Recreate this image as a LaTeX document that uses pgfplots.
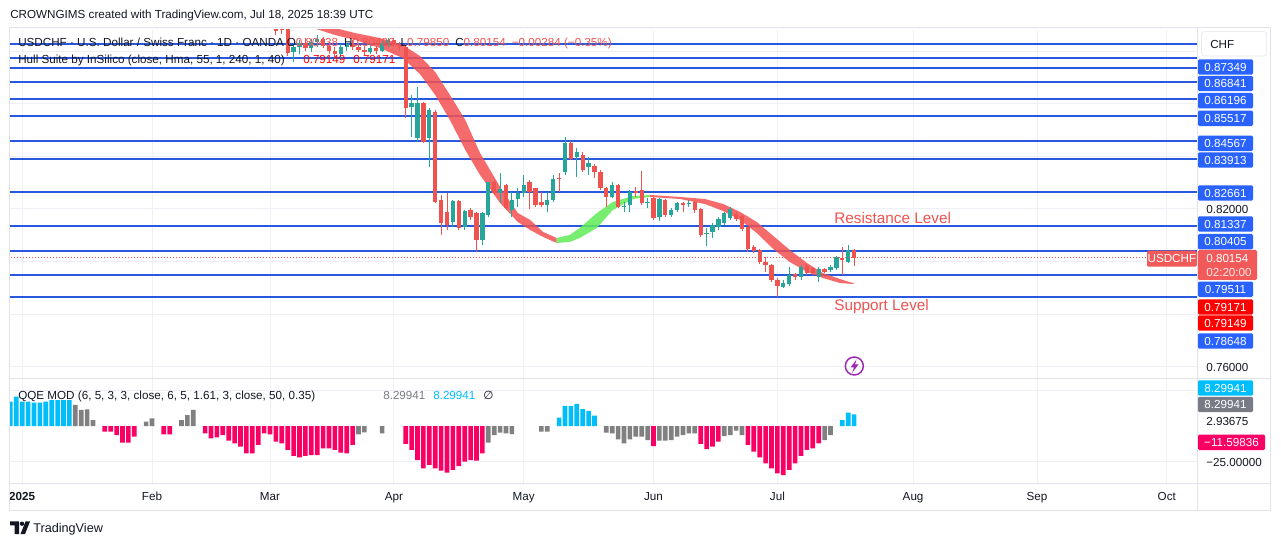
\documentclass[border=0pt]{standalone}
\usepackage{pgfplots}
\pgfplotsset{compat=1.18}
\usepackage{pgfplotstable}
\usepackage{fontspec}
\setmainfont{Liberation Sans}
\newfontfamily\dejavu{DejaVu Sans}
\definecolor{tvtext}{RGB}{19,23,34}
\definecolor{tvup}{RGB}{38,166,154}
\definecolor{tvdn}{RGB}{239,83,80}
\definecolor{tvblue}{RGB}{41,98,255}
\definecolor{lineblue}{RGB}{40,88,222}
\definecolor{gridc}{RGB}{238,240,245}
\definecolor{framec}{RGB}{224,227,235}
\definecolor{hullred}{RGB}{244,80,80}
\definecolor{hullgreen}{RGB}{96,236,88}
\definecolor{hullval}{RGB}{255,0,0}
\definecolor{qcyan}{RGB}{0,190,250}
\definecolor{qgray}{RGB}{128,128,128}
\definecolor{qmag}{RGB}{250,0,100}
\definecolor{qlab}{RGB}{120,123,134}
\definecolor{purp}{RGB}{156,39,176}
\definecolor{labred}{RGB}{242,90,90}
\newcommand\fs{\fontsize{8.75pt}{10.5pt}\selectfont}

% bullish candles
\pgfplotstableread{
i O H L C
47 0.8795 0.8830 0.8760 0.8815
48 0.8815 0.8840 0.8790 0.8830
50 0.8810 0.8845 0.8795 0.8835
51 0.8835 0.8860 0.8815 0.8845
55 0.8790 0.8825 0.8765 0.8815
56 0.8815 0.8830 0.8800 0.8825
60 0.8798 0.8825 0.8790 0.8812
62 0.8800 0.8840 0.8795 0.8830
63 0.8830 0.8850 0.8815 0.8840
67 0.85863 0.86330 0.84746 0.86026
68 0.84685 0.86645 0.84556 0.86015
70 0.84685 0.85825 0.83607 0.85760
74 0.81518 0.82342 0.81328 0.82315
76 0.81328 0.81962 0.81202 0.81935
79 0.80823 0.81886 0.80633 0.81859
80 0.81772 0.83037 0.81708 0.83037
82 0.82596 0.83367 0.82228 0.82748
84 0.81962 0.82657 0.81708 0.82342
85 0.82368 0.82786 0.82087 0.82596
86 0.82596 0.83291 0.82467 0.82912
90 0.82152 0.82657 0.81897 0.82342
91 0.82342 0.83291 0.82277 0.83139
93 0.83417 0.84723 0.83291 0.84518
95 0.83986 0.84305 0.83227 0.84176
97 0.83584 0.83964 0.83291 0.83736
101 0.82467 0.83037 0.82406 0.82912
103 0.82080 0.82277 0.81897 0.82095
104 0.82152 0.82722 0.81897 0.82657
107 0.82240 0.82406 0.82027 0.82255
109 0.81708 0.82406 0.81556 0.82368
111 0.81772 0.82027 0.81708 0.81962
112 0.81962 0.82277 0.81897 0.82216
114 0.82179 0.82342 0.82087 0.82239
117 0.81070 0.81267 0.80595 0.81085
118 0.81138 0.81457 0.80887 0.81392
119 0.81328 0.81708 0.81202 0.81609
120 0.81457 0.81897 0.81392 0.81837
121 0.81647 0.82087 0.81582 0.81989
130 0.79026 0.79303 0.78988 0.79201
131 0.79151 0.79809 0.79075 0.79493
133 0.79429 0.79873 0.79303 0.79809
136 0.79406 0.79809 0.79239 0.79710
138 0.79683 0.79873 0.79619 0.79809
139 0.79748 0.80215 0.79683 0.80166
141 0.79998 0.80633 0.79938 0.80443
}\upcandles

% bearish candles
\pgfplotstableread{
i O H L C
44 0.8990 0.9010 0.8862 0.8877
45 0.8895 0.8905 0.8864 0.8878
46 0.88863 0.8900 0.87811 0.87913
49 0.8830 0.8850 0.8800 0.8810
52 0.8845 0.8855 0.8810 0.8820
53 0.8820 0.8835 0.8790 0.8800
54 0.8800 0.8815 0.8770 0.8790
57 0.8825 0.8840 0.8805 0.8815
58 0.8815 0.8830 0.8795 0.8805
59 0.8805 0.8820 0.8785 0.8798
61 0.8812 0.8820 0.8790 0.8800
64 0.8840 0.8848 0.8815 0.8822
65 0.8822 0.8835 0.8805 0.8816
66 0.88164 0.88267 0.85456 0.85825
69 0.86015 0.86075 0.84495 0.84556
71 0.85695 0.85760 0.82216 0.82277
72 0.82342 0.82532 0.81012 0.81457
73 0.81897 0.82596 0.81202 0.81392
75 0.82315 0.82342 0.81202 0.81267
77 0.81962 0.82027 0.81582 0.81690
78 0.81859 0.81886 0.80378 0.80823
81 0.83037 0.83101 0.82532 0.82596
83 0.82912 0.82950 0.81962 0.82027
87 0.83037 0.83101 0.81999 0.82657
88 0.82786 0.82809 0.82087 0.82152
89 0.82277 0.82657 0.82087 0.82152
92 0.83180 0.83356 0.82657 0.83150
94 0.84518 0.84583 0.83861 0.83888
96 0.84051 0.84165 0.83405 0.83481
98 0.83633 0.83709 0.83166 0.83417
99 0.83417 0.83481 0.82722 0.82786
100 0.82786 0.82847 0.82087 0.82467
102 0.82912 0.82950 0.82027 0.82087
105 0.82695 0.82847 0.82467 0.82619
106 0.82722 0.83455 0.82152 0.82216
108 0.82406 0.82467 0.81582 0.81647
110 0.82342 0.82368 0.81708 0.81772
113 0.82216 0.82277 0.81897 0.82152
115 0.82254 0.82342 0.81837 0.81962
116 0.81989 0.82027 0.80948 0.81012
122 0.81810 0.81897 0.81556 0.81609
123 0.81734 0.81772 0.81176 0.81229
124 0.81305 0.81328 0.80378 0.80469
125 0.80545 0.80633 0.80317 0.80416
126 0.80443 0.80469 0.79911 0.79998
127 0.79998 0.80188 0.79619 0.79873
128 0.79873 0.79911 0.79239 0.79303
129 0.79303 0.79368 0.78669 0.79075
132 0.79531 0.79581 0.79303 0.79406
134 0.79835 0.79911 0.79493 0.79558
135 0.79748 0.79809 0.79493 0.79581
137 0.79710 0.79748 0.79558 0.79619
140 0.80128 0.80568 0.79493 0.80063
142 0.80438 0.80486 0.79850 0.80154
}\dncandles

\pgfplotstableread{
i v
-1 17.14
0 20.63
1 17.14
2 17.14
3 16.44
4 16.44
5 17.14
6 18.30
7 18.30
8 18.30
9 18.30
92 5.96
93 14.11
94 14.11
95 15.51
96 12.01
97 10.62
98 7.36
140 4.33
141 9.45
142 8.29941
}\qqecyan

\pgfplotstableread{
i v
10 14.81
11 11.32
12 11.78
13 4.33
22 3.17
23 5.50
28 4.33
29 7.82
30 11.32
58 -5.68
59 -4.28
62 -4.98
80 -11.50
81 -6.15
82 -4.52
83 -4.98
84 -5.45
89 -3.82
90 -3.82
100 -4.52
101 -4.98
102 -9.17
103 -11.97
104 -9.17
105 -7.31
106 -7.31
107 -9.64
109 -10.10
110 -10.10
111 -9.64
112 -7.31
113 -6.15
114 -4.98
115 -4.98
120 -6.85
121 -6.15
122 -3.12
123 -6.15
137 -9.64
138 -6.15
}\qqegray

\pgfplotstableread{
i v
15 -3.82
16 -3.82
17 -6.15
18 -11.50
19 -11.50
20 -7.31
25 -5.68
26 -5.68
32 -4.98
33 -8.48
34 -7.77
35 -6.15
36 -10.10
37 -11.97
38 -14.30
39 -18.95
40 -18.95
41 -13.13
42 -4.98
43 -5.68
44 -10.80
45 -11.97
46 -16.62
47 -20.81
48 -21.74
49 -20.81
50 -20.12
51 -20.12
52 -15.46
53 -15.46
54 -16.62
55 -18.49
56 -18.95
57 -13.13
66 -12.43
67 -16.62
68 -23.61
69 -29.43
70 -27.10
71 -29.43
72 -31.06
73 -32.46
74 -30.59
75 -27.80
76 -24.77
77 -23.61
78 -24.07
79 -18.95
108 -13.83
116 -12.43
117 -15.93
118 -14.30
119 -10.80
124 -13.13
125 -17.79
126 -21.74
127 -25.94
128 -29.43
129 -32.92
130 -34.09
131 -30.59
132 -25.94
133 -20.81
134 -16.62
135 -15.46
136 -11.97
}\qqemag

\begin{document}
\begin{tikzpicture}
\begin{scope}[x=0.75pt,y=0.75pt]
\useasboundingbox (0,0) rectangle (1281,546);
\fill[white] (0,0) rectangle (1281,546);
\end{scope}

% ---------------- main price pane ----------------
\begin{axis}[
  at={(7.5pt,126pt)}, anchor=south west,
  scale only axis, width=890.25pt, height=261pt,
  xmin=-1.068, xmax=200.12, ymin=0.75581, ymax=0.88798,
  axis line style={draw=none}, major tick length=0pt,
  xtick={1,23,43,64,86,108,129,152,173,195},
  ytick={0.76,0.78,0.80,0.82,0.84,0.86,0.88},
  xticklabels={}, yticklabels={}, scaled y ticks=false,
  grid=major, grid style={gridc, line width=0.75pt},
]
% horizontal levels
\pgfplotsinvokeforeach{0.88267,0.87724,0.87349,0.86841,0.86196,0.85517,0.84567,0.83913,0.82661,0.81337,0.80405,0.79511,0.78648}{
  \addplot[lineblue, line width=1.5pt, forget plot] coordinates {(-2,#1) (202,#1)};
}
% Hull band
\addplot[draw=none, fill=hullred, fill opacity=0.85, forget plot] coordinates {
(47,0.8960) (50.3,0.89102) (54,0.88874) (57.4,0.88684) (61.6,0.88495) (65.5,0.88229) (68.4,0.87811) (71,0.87203) (73.5,0.86330) (76.1,0.85380) (78.6,0.84127) (82,0.82836) (85,0.81848) (87.1,0.81582) (89.3,0.81126) (91.6,0.80899)
(91.6,0.80709) (89.3,0.80937) (87.1,0.81202) (85,0.81506) (82,0.82228) (78.6,0.83291) (76.1,0.84241) (73.5,0.85380) (71,0.86330) (68.4,0.87127) (65.5,0.87735) (61.6,0.88115) (57.4,0.88419) (54,0.88609) (50.3,0.88874) (47,0.8930)};
\addplot[draw=none, fill=hullgreen, fill opacity=0.85, forget plot] coordinates {
(91.6,0.80899) (93.8,0.81013) (95.5,0.81278) (98.4,0.81848) (101.1,0.82266) (104.5,0.82494) (107.4,0.82532)
(107.4,0.82456) (104.5,0.82380) (101.1,0.81962) (98.4,0.81278) (95.5,0.80899) (93.8,0.80747) (91.6,0.80709)};
\addplot[draw=none, fill=hullred, fill opacity=0.85, forget plot] coordinates {
(107.4,0.82532) (112.5,0.82456) (116.7,0.82380) (119.8,0.82190) (122.7,0.81886) (125.5,0.81506) (128.3,0.80975) (131.1,0.80443) (134,0.79949) (136.7,0.79569) (139.6,0.79341) (142,0.79171)
(142,0.79149) (139.6,0.79189) (136.7,0.79379) (134,0.79607) (131.1,0.79987) (128.3,0.80481) (125.5,0.81088) (122.7,0.81582) (119.8,0.81924) (116.7,0.82190) (112.5,0.82380) (107.4,0.82456)};
% candles: wicks
\addplot[tvup, line width=0.75pt, mark=none, quiver={u=0, v=\thisrow{H}-\thisrow{L}}] table[x=i, y=L] {\upcandles};
\addplot[tvdn, line width=0.75pt, mark=none, quiver={u=0, v=\thisrow{H}-\thisrow{L}}] table[x=i, y=L] {\dncandles};
% candles: bodies
\addplot[tvup, line width=3.2pt, mark=none, quiver={u=0, v={max(\thisrow{C}-\thisrow{O},0.0003)}}] table[x=i, y=O] {\upcandles};
\addplot[tvdn, line width=3.2pt, mark=none, quiver={u=0, v={max(\thisrow{O}-\thisrow{C},0.0003)}}] table[x=i, y=C] {\dncandles};
% last price line
\addplot[tvdn, line width=0.75pt, dash pattern=on 0.75pt off 1.5pt] coordinates {(-2,0.80154) (202,0.80154)};
\end{axis}

% ---------------- QQE pane ----------------
\begin{axis}[
  at={(7.5pt,45.75pt)}, anchor=south west,
  scale only axis, width=890.25pt, height=80.25pt,
  xmin=-1.068, xmax=200.12, ymin=-41.07, ymax=33.67,
  axis line style={draw=none}, major tick length=0pt,
  xtick={1,23,43,64,86,108,129,152,173,195},
  xticklabels={\textbf{2025},Feb,Mar,Apr,May,Jun,Jul,Aug,Sep,Oct},
  xticklabel style={font=\fs, text=tvtext, anchor=base, yshift=-11.9pt},
  ytick={-25,25}, yticklabels={},
  grid=major, grid style={gridc, line width=0.75pt},
]
\addplot[ybar, bar width=3.5pt, bar shift=0pt, fill=qcyan, draw=none] table[x=i, y=v] {\qqecyan};
\addplot[ybar, bar width=3.5pt, bar shift=0pt, fill=qgray, draw=none] table[x=i, y=v] {\qqegray};
\addplot[ybar, bar width=3.5pt, bar shift=0pt, fill=qmag, draw=none] table[x=i, y=v] {\qqemag};
\end{axis}

\begin{scope}[x=0.75pt,y=0.75pt]
% ---------------- frame ----------------
\draw[framec, line width=0.75pt] (9.3,546-27.5) rectangle (1270.7,546-510.7);
\draw[framec, line width=0.75pt] (1197,546-27.5) -- (1197,546-510.7);
\draw[framec, line width=0.75pt] (9.3,546-378.3) -- (1270.7,546-378.3);
\draw[framec, line width=0.75pt] (9.3,546-483.3) -- (1270.7,546-483.3);

% ---------------- texts ----------------
\node[anchor=base west, inner sep=0pt, font=\fs, text=tvtext] at (10,546-18.2) {CROWNGIMS created with TradingView.com, Jul 18, 2025 18:39 UTC};
\node[anchor=base west, inner sep=0pt, font=\fs, text=tvtext] at (18,546-46.2) {USDCHF · U.S. Dollar / Swiss Franc · 1D · OANDA};
\node[anchor=base west, inner sep=0pt, font=\fs, text=tvtext] at (286.5,546-46.2) {O\textcolor{tvdn}{0.80438}\hspace{4.5pt}H\textcolor{tvdn}{0.80486}\hspace{4.5pt}L\textcolor{tvdn}{0.79850}\hspace{4.5pt}C\textcolor{tvdn}{0.80154}\hspace{4.5pt}\textcolor{tvdn}{−0.00284 (−0.35\%)}};
\node[anchor=base west, inner sep=0pt, font=\fs, text=tvtext] at (18,546-63.2) {Hull Suite by InSilico (close, Hma, 55, 1, 240, 1, 40)};
\node[anchor=base west, inner sep=0pt, font=\fs, text=hullval] at (303,546-63.2) {0.79149};
\node[anchor=base west, inner sep=0pt, font=\fs, text=hullval] at (353,546-63.2) {0.79171};
\node[anchor=base west, inner sep=0pt, font=\fs, text=tvtext] at (18,546-399.2) {QQE MOD (6, 5, 3, 3, close, 6, 5, 1.61, 3, close, 50, 0.35)};
\node[anchor=base west, inner sep=0pt, font=\fs, text=qlab] at (383,546-399.2) {8.29941};
\node[anchor=base west, inner sep=0pt, font=\fs, text=qcyan] at (433,546-399.2) {8.29941};
\node[anchor=base west, inner sep=0pt, font=\fs\dejavu, text=tvtext] at (483,546-399.2) {∅};

\node[anchor=base west, inner sep=0pt, font=\fontsize{11.5pt}{13pt}\selectfont, text=tvdn] at (834,546-224) {Resistance Level};
\node[anchor=base west, inner sep=0pt, font=\fontsize{11.5pt}{13pt}\selectfont, text=tvdn] at (834,546-310.5) {Support Level};

% alert icon
\draw[purp, line width=1.1pt] (854.3,546-366) circle[radius=9];
\fill[purp] (856.5,546-359.5) -- (850.5,546-367.5) -- (854,546-367.5) -- (852,546-373) -- (858.5,546-364.5) -- (855,546-364.5) -- cycle;

% right price scale
\tikzset{plab/.style={fill=#1, text=white, font=\fs, inner sep=0pt, minimum width=41.25pt, minimum height=11.6pt, rounded corners=1pt}}
\draw[framec, fill=white, rounded corners=2pt] (1201.7,546-31.7) rectangle (1266.7,546-56);
\node[anchor=base west, inner sep=0pt, font=\fs, text=tvtext] at (1210,546-48.2) {CHF};
\foreach \yy/\tt in {67/0.87349, 83.5/0.86841, 100.7/0.86196, 118.3/0.85517, 143.3/0.84567, 160/0.83913, 193/0.82661, 224/0.81337, 241.7/0.80405, 289.3/0.79511, 341/0.78648}{
  \node[plab=tvblue] at (1225.5,546-\yy) {\tt};
}
\node[plab=hullval] at (1225.5,546-307) {0.79171};
\node[plab=hullval] at (1225.5,546-323) {0.79149};
\node[anchor=base west, inner sep=0pt, font=\fs, text=tvtext] at (1206,546-213.5) {0.82000};
\node[anchor=base west, inner sep=0pt, font=\fs, text=tvtext] at (1206,546-371.2) {0.76000};
% last price box
\fill[labred, rounded corners=1pt] (1198,546-250) rectangle (1257,546-280);
\node[anchor=base west, inner sep=0pt, font=\fs, text=white] at (1206,546-262.2) {0.80154};
\node[anchor=base west, inner sep=0pt, font=\fs, text=white, text opacity=0.85] at (1206,546-276.7) {02:20:00};
\node[fill=labred, text=white, font=\fs, inner sep=0pt, minimum width=37.3pt, minimum height=12pt, rounded corners=1pt] at (1171.9,546-258.7) {USDCHF};
% QQE scale
\node[plab=qcyan] at (1225.5,546-388) {8.29941};
\node[plab=qlab] at (1225.5,546-404.5) {8.29941};
\node[anchor=base west, inner sep=0pt, font=\fs, text=tvtext] at (1206,546-425.9) {2.93675};
\node[plab=qmag, minimum width=50.25pt] at (1231.5,546-442.3) {−11.59836};
\node[anchor=base west, inner sep=0pt, font=\fs, text=tvtext] at (1206,546-466.5) {−25.00000};

% TradingView logo
\fill[tvtext] (10,546-521.5) -- (19,546-521.5) -- (19,546-534) -- (14.5,546-534) -- (14.5,546-525.5) -- (10,546-525.5) -- cycle;
\fill[tvtext] (22,546-523.7) circle[radius=2.2];
\fill[tvtext] (25.5,546-521.5) -- (30,546-521.5) -- (25,546-534) -- (20.5,546-534) -- cycle;
\node[anchor=base west, inner sep=0pt, font=\fontsize{9.5pt}{11pt}\selectfont, text=tvtext] at (33,546-532.5) {TradingView};
\end{scope}
\end{tikzpicture}
\end{document}
